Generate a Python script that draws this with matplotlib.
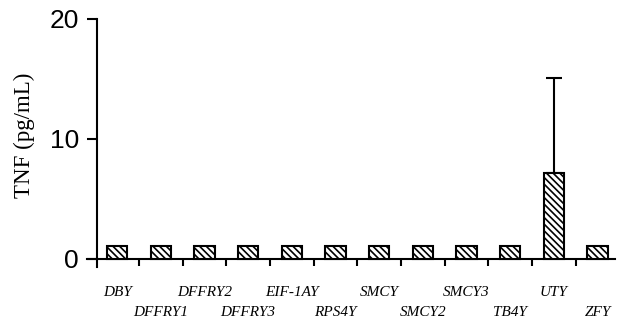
import matplotlib
matplotlib.use('Agg')
import matplotlib.pyplot as plt
import numpy as np

genes = ['DBY', 'DFFRY1', 'DFFRY2', 'DFFRY3', 'EIF-1AY', 'RPS4Y',
         'SMCY', 'SMCY2', 'SMCY3', 'TB4Y', 'UTY', 'ZFY']
tnf = [1.1, 1.1, 1.1, 1.1, 1.1, 1.1, 1.1, 1.1, 1.1, 1.1, 7.2, 1.1]
err_up = [0, 0, 0, 0, 0, 0, 0, 0, 0, 0, 7.9, 0]
yticks = [0, 10, 20]

plt.rcParams['hatch.linewidth'] = 1.2

fig = plt.figure(figsize=(6.18, 3.2), dpi=100)
# axes box in pixels: x 87..615, y 19..267
ax = fig.add_axes([87/618, (320-267)/320, (615-87)/618, (267-19)/320])

x = np.arange(len(genes))
ax.bar(x, tnf, width=0.46, color='white', edgecolor='black', linewidth=1.5,
       hatch='\\\\\\\\\\', zorder=3)
ax.errorbar(x[10], tnf[10], yerr=[[0], [err_up[10]]], fmt='none',
            ecolor='black', elinewidth=1.5, capsize=5.5, capthick=1.5, zorder=2)

ax.set_xlim(-0.69, 11.4)
ax.set_ylim(-0.67, 20)

for s in ['top', 'right']:
    ax.spines[s].set_visible(False)
ax.spines['left'].set_position(('data', -0.46))
ax.spines['bottom'].set_position(('data', 0))
ax.spines['left'].set_linewidth(1.5)
ax.spines['bottom'].set_linewidth(1.5)
ax.spines['left'].set_bounds(-0.67, 20)

ax.set_yticks(yticks)
ax.set_yticklabels([str(v) for v in yticks], fontsize=19, family='Liberation Sans')
ax.tick_params(axis='y', direction='out', length=7, width=1.5, pad=6)

ax.set_xticks(np.arange(len(genes) - 1) + 0.5)
ax.set_xticklabels([])
ax.tick_params(axis='x', direction='out', length=5, width=1.5)

for i, g in enumerate(genes):
    off = -34 if i % 2 == 0 else -54
    ax.annotate(g, xy=(i, 0), xytext=(0, off), textcoords='offset pixels',
                ha='center', va='center', fontsize=11, style='italic',
                family='Liberation Serif', annotation_clip=False)

ax.set_ylabel('TNF (pg/mL)', fontsize=16.5, family='Liberation Serif')
ax.yaxis.set_label_coords(-0.098, 0.53)

fig.savefig('out.png', dpi=100)
